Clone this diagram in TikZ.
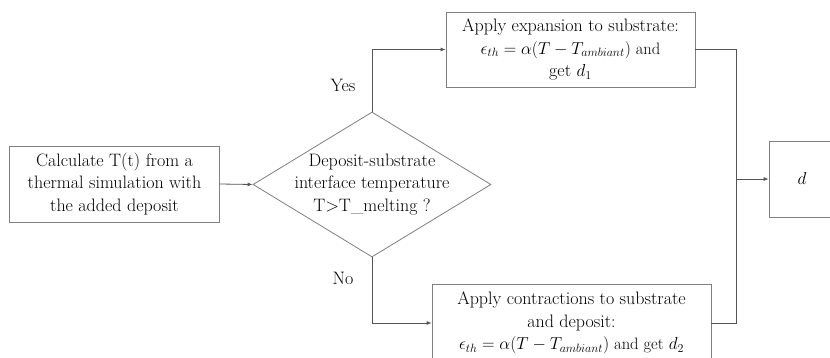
\documentclass[tikz,border=0pt]{standalone}
\usetikzlibrary{shapes.geometric,arrows.meta}
\newcommand\mathsz{\fontsize{16.5}{22.5}\selectfont}
\begin{document}
\begin{tikzpicture}[x=1pt,y=-1pt,
  box/.style={draw=boxgray,line width=0.8pt,inner sep=0pt,align=center,font=\fontsize{18}{22.5}\selectfont},
  conn/.style={draw=conngray,line width=0.8pt},
  arr/.style={conn,-{Latex[length=5pt,width=4pt]}},
  lbl/.style={font=\fontsize{18}{22.5}\selectfont,inner sep=0pt}]
\definecolor{boxgray}{HTML}{7F7F7F}
\definecolor{conngray}{HTML}{555555}
\clip (0,0) rectangle (830,358);
\fill[white] (0,0) rectangle (830,358);
\node[box,minimum width=210pt,minimum height=76pt] (calc) at (114.5,184) {Calculate T(t) from a\\thermal simulation with\\the added deposit};
\node[draw=boxgray,line width=0.8pt,shape=diamond,minimum width=238pt,minimum height=145pt,inner sep=0pt] (dia) at (372,184.5) {};
\node[lbl,align=center] (diatext) at (dia.center) {Deposit-substrate\\interface temperature\\T>T\_melting ?};
\node[box,minimum width=249pt,minimum height=75pt] (top) at (570.5,49.5) {Apply expansion to substrate:\\{\mathsz$\epsilon_{th}=\alpha(T-T_{ambiant})$ and}\\get {\mathsz$d_1$}};
\node[box,minimum width=279pt,minimum height=78pt] (bot) at (571.5,323) {Apply contractions to substrate\\and deposit:\\{\mathsz$\epsilon_{th}=\alpha(T-T_{ambiant})$ and get $d_2$}};
\node[box,minimum width=66pt,minimum height=76pt] (d) at (802,179) {$d$};
\node[lbl] (yes) at (343,85) {Yes};
\node[lbl] (no) at (343,278) {No};
\coordinate (bus) at (736,179);
\draw[arr] (calc.east) -- (dia.west);
\draw[arr] (dia.north) |- (top.west);
\draw[arr] (dia.south) |- (bot.west);
\draw[conn] (top.east) -| (bus);
\draw[conn] (bot.east) -| (bus);
\draw[arr] (bus) -- (d.west);
\end{tikzpicture}
\end{document}
